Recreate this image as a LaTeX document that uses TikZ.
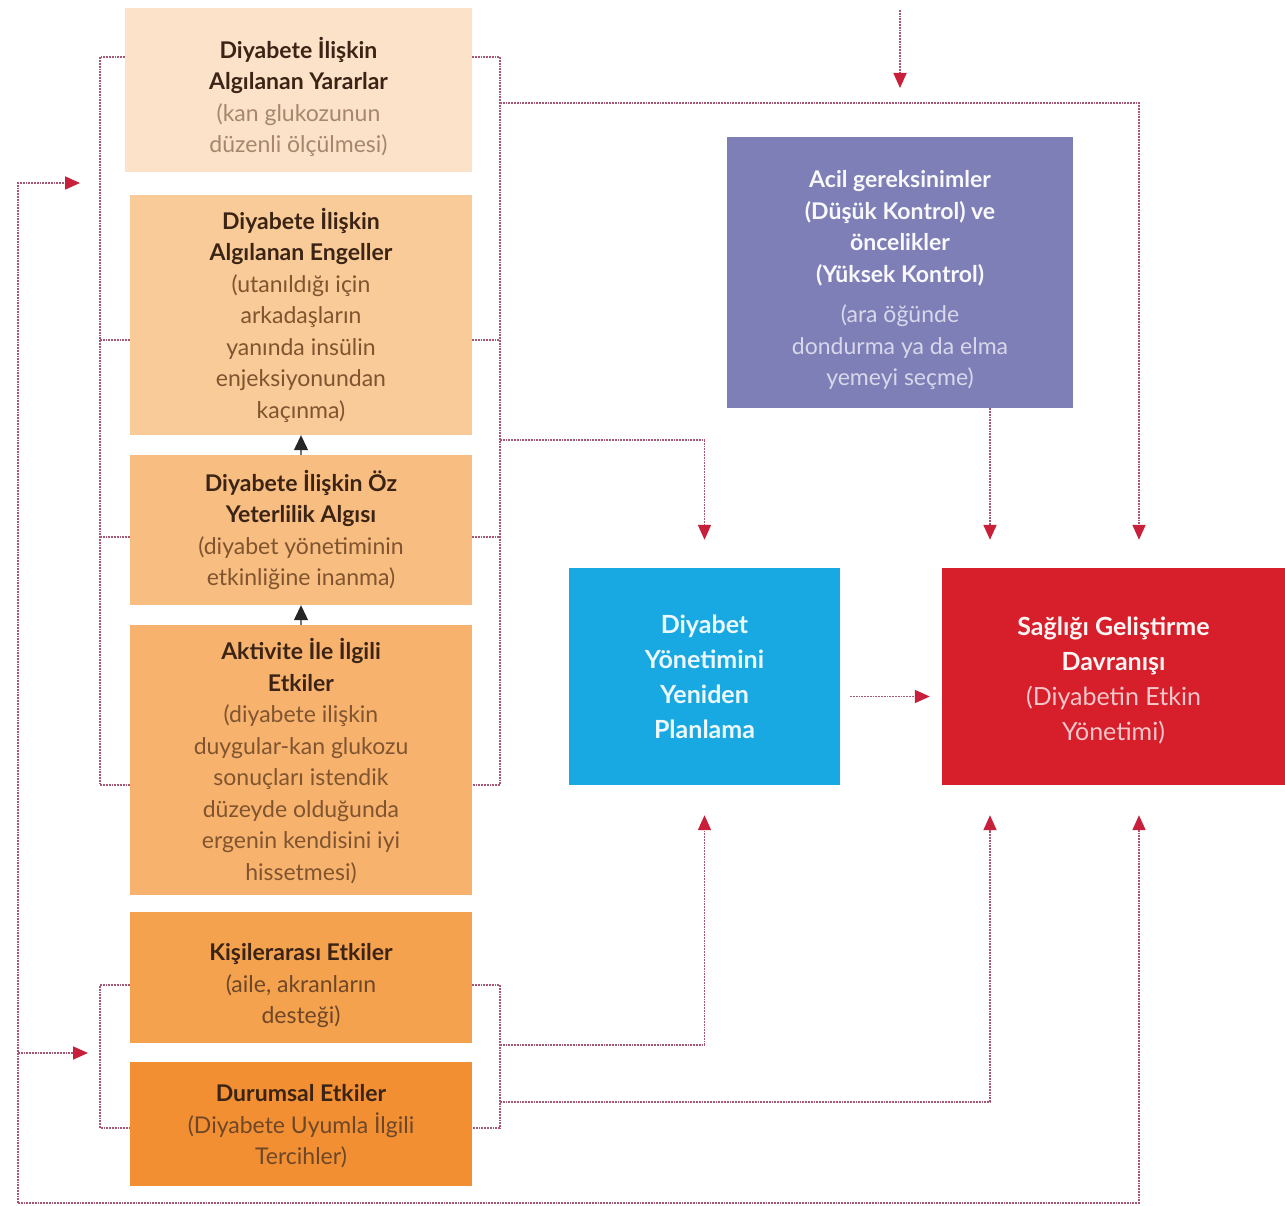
\documentclass[tikz,border=0pt]{standalone}
\usepackage{fontspec}
\setmainfont{Lato}
\usepackage{tikz}
\usetikzlibrary{arrows.meta}
\usetikzlibrary{positioning}

\definecolor{kutuA}{HTML}{FBE2C8}
\definecolor{kutuB}{HTML}{F9CB98}
\definecolor{kutuC}{HTML}{F8BD80}
\definecolor{kutuD}{HTML}{F7B36E}
\definecolor{kutuE}{HTML}{F5A24F}
\definecolor{kutuF}{HTML}{F28F33}
\definecolor{mor}{HTML}{7F7FB8}
\definecolor{mavi}{HTML}{18A9E3}
\definecolor{kirmizi}{HTML}{D61F2B}
\definecolor{baslik}{HTML}{3B2415}
\definecolor{altyazi}{HTML}{80542F}
\definecolor{cizgi}{HTML}{A85672}
\definecolor{okrengi}{HTML}{C8203A}

\newcommand{\bosluk}[1]{\rule{0pt}{#1}}

\begin{document}
\begin{tikzpicture}[x=1pt, y=-1pt,
    kutu/.style={rectangle, inner sep=0pt, align=center, text=baslik,
      font=\fontsize{23}{31.5}\selectfont},
    baglanti/.style={cizgi, densely dotted, line width=1.8pt},
    ok/.style={-{Triangle[length=15pt, width=13pt, color=okrengi]}},
    siyahok/.style={-{Triangle[length=15pt, width=14pt, color=black!85]}, line width=1.2pt, black!55}]
    \useasboundingbox (0,0) rectangle (1285,1206);

    % sol kutular
    \node [kutu, fill=kutuA, minimum width=347pt, minimum height=164pt] (yarar) at (298.5,90)
      {\bosluk{35pt}\textbf{Diyabete İlişkin}\\\textbf{Algılanan Yararlar}\\\textcolor{altyazi!70!white}{(kan glukozunun}\\\textcolor{altyazi!70!white}{düzenli ölçülmesi)}};
    \node [kutu, fill=kutuB, minimum width=342pt, minimum height=240pt] (engel) at (301,315)
      {\textbf{Diyabete İlişkin}\\\textbf{Algılanan Engeller}\\\textcolor{altyazi}{(utanıldığı için}\\\textcolor{altyazi}{arkadaşların}\\\textcolor{altyazi}{yanında insülin}\\\textcolor{altyazi}{enjeksiyonundan}\\\textcolor{altyazi}{kaçınma)}};
    \node [kutu, fill=kutuC, minimum width=342pt, minimum height=150pt] (ozyet) at (301,530)
      {\textbf{Diyabete İlişkin Öz}\\\textbf{Yeterlilik Algısı}\\\textcolor{altyazi}{(diyabet yönetiminin}\\\textcolor{altyazi}{etkinliğine inanma)}};
    \node [kutu, fill=kutuD, minimum width=342pt, minimum height=270pt] (aktivite) at (301,760)
      {\bosluk{23pt}\textbf{Aktivite İle İlgili}\\\textbf{Etkiler}\\\textcolor{altyazi}{(diyabete ilişkin}\\\textcolor{altyazi}{duygular-kan glukozu}\\\textcolor{altyazi}{sonuçları istendik}\\\textcolor{altyazi}{düzeyde olduğunda}\\\textcolor{altyazi}{ergenin kendisini iyi}\\\textcolor{altyazi}{hissetmesi)}};
    \node [kutu, fill=kutuE, minimum width=342pt, minimum height=131pt] (kisiler) at (301,977.5)
      {\bosluk{34pt}\textbf{Kişilerarası Etkiler}\\\textcolor{altyazi!85!black}{(aile, akranların}\\\textcolor{altyazi!85!black}{desteği)}};
    \node [kutu, fill=kutuF, minimum width=342pt, minimum height=124pt] (durum) at (301,1124)
      {\bosluk{22pt}\textbf{Durumsal Etkiler}\\\textcolor{altyazi!85!black}{(Diyabete Uyumla İlgili}\\\textcolor{altyazi!85!black}{Tercihler)}};

    % sag kutular
    \node [kutu, fill=mor, text=white!95!mor, minimum width=346pt, minimum height=271pt] (acil) at (900,272.5)
      {\bosluk{33pt}\textbf{Acil gereksinimler}\\\textbf{(Düşük Kontrol) ve}\\\textbf{öncelikler}\\\textbf{(Yüksek Kontrol)}\\[9pt]\textcolor{white!70!mor}{(ara öğünde}\\\textcolor{white!70!mor}{dondurma ya da elma}\\\textcolor{white!70!mor}{yemeyi seçme)}};
    \node [kutu, fill=mavi, text=white!92!mavi, minimum width=271pt, minimum height=217pt,
      font=\fontsize{25}{35}\selectfont] (planlama) at (704.5,676.5)
      {\textbf{Diyabet}\\\textbf{Yönetimini}\\\textbf{Yeniden}\\\textbf{Planlama}};
    \node [kutu, fill=kirmizi, text=white!95!kirmizi, minimum width=343pt, minimum height=217pt,
      font=\fontsize{25}{35}\selectfont] (davranis) at (1113.5,676.5)
      {\bosluk{27pt}\textbf{Sağlığı Geliştirme}\\\textbf{Davranışı}\\\textcolor{white!75!kirmizi}{(Diyabetin Etkin}\\\textcolor{white!75!kirmizi}{Yönetimi)}};

    \coordinate (solust) at (100,57);
    \coordinate (solalt) at (100,785);
    \coordinate (sagust) at (500,57);
    \coordinate (sagalt) at (500,785);
    \coordinate (solust2) at (100,985);
    \coordinate (solalt2) at (100,1128);
    \coordinate (sagust2) at (500,985);
    \coordinate (sagalt2) at (500,1128);
    \coordinate (ust) at (500,103);
    \coordinate (orta) at (500,440);
    \coordinate (kisialt) at (500,1045);
    \coordinate (durumalt) at (500,1102);
    \coordinate (giris) at (900,10);
    \coordinate (kol1) at (990,0);
    \coordinate (kol2) at (1139,0);
    \coordinate (dis1) at (18,183);
    \coordinate (dis2) at (18,1053);
    \coordinate (dis3) at (18,1203);

    % ayraclar
    \draw [baglanti] (yarar.west |- solust) -- (solust) -- (solalt) -- (aktivite.west |- solalt);
    \draw [baglanti] ([yshift=-25pt]engel.west) -- (solust |- 0,340);
    \draw [baglanti] ([yshift=-7pt]ozyet.west) -- (solust |- 0,537);
    \draw [baglanti] (yarar.east |- sagust) -- (sagust) -- (sagalt) -- (aktivite.east |- sagalt);
    \draw [baglanti] ([yshift=-25pt]engel.east) -- (sagust |- 0,340);
    \draw [baglanti] ([yshift=-7pt]ozyet.east) -- (sagust |- 0,537);
    \draw [baglanti] (kisiler.west |- solust2) -- (solust2) -- (solalt2) -- (durum.west |- solalt2);
    \draw [baglanti] (kisiler.east |- sagust2) -- (sagust2) -- (sagalt2) -- (durum.east |- sagalt2);

    % oklar
    \draw [baglanti, ok, shorten >=15pt] (giris) -- (giris |- ust);
    \draw [baglanti, ok, shorten >=28pt] (ust) -- (kol2 |- ust) -- (kol2 |- davranis.north);
    \draw [baglanti, ok, shorten >=28pt] (orta) -- (orta -| planlama.north) -- (planlama.north);
    \draw [baglanti, ok, shorten >=28pt] (kol1 |- acil.south) -- (kol1 |- davranis.north);
    \draw [baglanti, ok, shorten <=10pt, shorten >=12pt] ([yshift=-20pt]planlama.east) -- ([yshift=-20pt]planlama.east -| davranis.west);
    \draw [baglanti, ok, shorten >=30pt] (kisialt) -- (kisialt -| planlama.south) -- (planlama.south);
    \draw [baglanti, ok, shorten >=30pt] (durumalt) -- (durumalt -| kol1) -- (kol1 |- davranis.south);
    \draw [baglanti, ok, shorten >=30pt] (dis3) -- (dis3 -| kol2) -- (kol2 |- davranis.south);
    \draw [baglanti, ok, shorten >=20pt] (dis3) -- (dis1) -- (dis1 -| solust);
    \draw [baglanti, ok, shorten >=12pt] (dis2) -- (dis2 -| solust);

    \draw [siyahok] (ozyet.north) -- (engel.south);
    \draw [siyahok] (aktivite.north) -- (ozyet.south);

\end{tikzpicture}
\end{document}
